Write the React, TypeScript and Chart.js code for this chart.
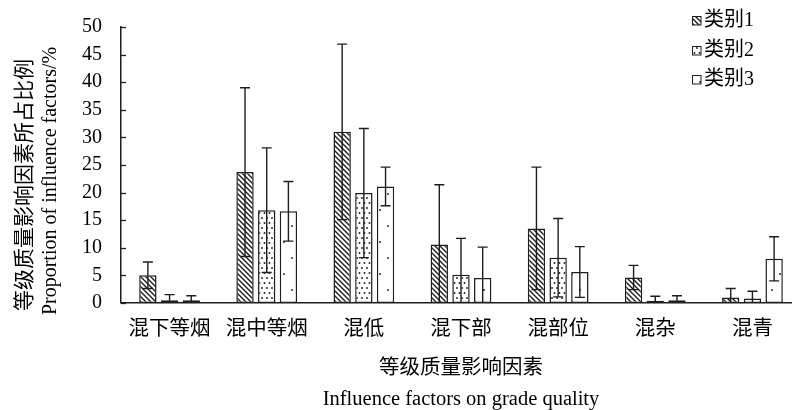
import React, { useEffect, useRef } from 'react';
import { Chart, registerables } from 'chart.js';

Chart.register(...registerables);

const categories = ['混下等烟', '混中等烟', '混低', '混下部', '混部位', '混杂', '混青'];
const seriesNames = ['类别1', '类别2', '类别3'];
const series1 = [5.0, 23.7, 31.0, 10.6, 13.5, 4.6, 1.0];
const series2 = [0.5, 16.8, 19.9, 5.1, 8.2, 0.4, 0.8];
const series3 = [0.5, 16.6, 21.1, 4.5, 5.6, 0.5, 8.0];
const error1 = [2.4, 15.3, 15.9, 10.8, 11.1, 2.2, 1.6];
const error2 = [1.0, 11.3, 11.7, 6.6, 7.1, 0.8, 1.3];
const error3 = [0.8, 5.4, 3.5, 5.6, 4.6, 0.8, 4.0];
const yMin = 0;
const yMax = 50;
const yStep = 5;
const yTitleLines = ['等级质量影响因素所占比例', 'Proportion of influence factors/%'];
const xTitleLines = ['等级质量影响因素', 'Influence factors on grade quality'];

const FONT = '"Liberation Serif", "Noto Sans CJK SC", serif';
const INK = '#1e1e1e';
const SHIFT = 4; // canvas is lifted by this many px

function makePattern(kind: number): CanvasPattern | string {
  const c = document.createElement('canvas');
  const ctx = c.getContext('2d');
  if (!ctx) return '#fff';
  if (kind === 0) {
    const s = 5;
    c.width = s; c.height = s;
    ctx.fillStyle = '#fff';
    ctx.fillRect(0, 0, s, s);
    ctx.strokeStyle = INK;
    ctx.lineWidth = 1.4;
    ctx.beginPath();
    ctx.moveTo(-1, -1); ctx.lineTo(s + 1, s + 1);
    ctx.moveTo(-1, s - 1); ctx.lineTo(1, s + 1);
    ctx.moveTo(s - 1, -1); ctx.lineTo(s + 1, 1);
    ctx.stroke();
  } else if (kind === 1) {
    c.width = 10; c.height = 10;
    ctx.fillStyle = '#fff';
    ctx.fillRect(0, 0, 10, 10);
    ctx.fillStyle = INK;
    const pts = [[2, 2], [7, 2], [4.5, 7], [9.5, 7], [-0.5, 7]];
    pts.forEach(([x, y]) => { ctx.beginPath(); ctx.arc(x, y, 0.95, 0, Math.PI * 2); ctx.fill(); });
  } else {
    c.width = 16; c.height = 32;
    ctx.fillStyle = '#fff';
    ctx.fillRect(0, 0, 16, 32);
    ctx.fillStyle = INK;
    const pts = [[4, 6], [12, 22]];
    pts.forEach(([x, y]) => { ctx.beginPath(); ctx.arc(x, y, 0.95, 0, Math.PI * 2); ctx.fill(); });
  }
  return ctx.createPattern(c, 'repeat') || '#fff';
}

export default function App() {
  const ref = useRef<HTMLCanvasElement | null>(null);

  useEffect(() => {
    document.documentElement.style.overflow = 'hidden';
    document.body.style.margin = '0';
    document.body.style.overflow = 'hidden';
    const canvas = ref.current;
    if (!canvas) return;
    const patterns = [makePattern(0), makePattern(1), makePattern(2)];
    const errors = [error1, error2, error3];

    const errorBars = {
      id: 'errorBars',
      afterDatasetsDraw(chart: any) {
        const { ctx, chartArea } = chart;
        const y = chart.scales.y;
        ctx.save();
        ctx.beginPath();
        ctx.rect(chartArea.left, chartArea.top - 30, chartArea.right - chartArea.left, chartArea.bottom - chartArea.top + 30);
        ctx.clip();
        ctx.strokeStyle = INK;
        ctx.lineWidth = 1.4;
        chart.data.datasets.forEach((ds: any, i: number) => {
          const meta = chart.getDatasetMeta(i);
          meta.data.forEach((bar: any, j: number) => {
            const v = ds.data[j];
            const e = errors[i][j];
            const x = bar.x;
            const yt = y.getPixelForValue(v + e);
            const yb = y.getPixelForValue(v - e);
            const hw = 5;
            ctx.beginPath();
            ctx.moveTo(x, yt); ctx.lineTo(x, yb);
            ctx.moveTo(x - hw, yt); ctx.lineTo(x + hw, yt);
            ctx.moveTo(x - hw, yb); ctx.lineTo(x + hw, yb);
            ctx.stroke();
          });
        });
        ctx.restore();
      },
    };

    const extras = {
      id: 'extras',
      afterDraw(chart: any) {
        const { ctx, chartArea } = chart;
        const y = chart.scales.y;
        ctx.save();
        // inward ticks
        ctx.strokeStyle = INK;
        ctx.lineWidth = 1.3;
        y.ticks.forEach((t: any) => {
          const py = Math.round(y.getPixelForValue(t.value)) + 0.5;
          ctx.beginPath();
          ctx.moveTo(chartArea.left, py);
          ctx.lineTo(chartArea.left + 5, py);
          ctx.stroke();
        });
        // y titles
        const mid = (chartArea.top + chartArea.bottom) / 2;
        ctx.fillStyle = '#000';
        ctx.textAlign = 'center';
        ctx.textBaseline = 'middle';
        ctx.save();
        ctx.translate(23, mid + 20);
        ctx.rotate(-Math.PI / 2);
        ctx.font = '21px "Noto Sans CJK SC", sans-serif';
        ctx.fillText(yTitleLines[0], 0, 0);
        ctx.restore();
        ctx.save();
        ctx.translate(51, mid + 16);
        ctx.rotate(-Math.PI / 2);
        ctx.font = '20px "Liberation Serif", serif';
        ctx.fillText(yTitleLines[1], 0, 0);
        ctx.restore();
        // legend
        const lx = 692;
        const rows = [20, 50, 79];
        chart.data.datasets.forEach((ds: any, i: number) => {
          const cy = rows[i] + SHIFT;
          ctx.fillStyle = patterns[i] as any;
          ctx.fillRect(lx, cy - 4, 9, 9);
          ctx.strokeStyle = INK;
          ctx.lineWidth = 1;
          ctx.strokeRect(lx + 0.5, cy - 3.5, 8.5, 8.5);
          ctx.fillStyle = '#000';
          ctx.textAlign = 'left';
          ctx.font = '20px ' + FONT;
          ctx.fillText(ds.label, lx + 12, cy + 1);
        });
        ctx.restore();
      },
    };

    const mk = (label: string, data: number[], i: number) => ({
      label,
      data,
      backgroundColor: patterns[i],
      borderColor: INK,
      borderWidth: 1.5,
      borderSkipped: false,
      categoryPercentage: 0.67,
      barPercentage: 0.8,
    });

    const chart = new Chart(canvas, {
      type: 'bar',
      data: {
        labels: categories,
        datasets: [
          mk(seriesNames[0], series1, 0),
          mk(seriesNames[1], series2, 1),
          mk(seriesNames[2], series3, 2),
        ],
      },
      options: {
        responsive: false,
        animation: false,
        layout: { padding: { left: 63, right: 3, top: 0, bottom: 0 } },
        plugins: { legend: { display: false }, tooltip: { enabled: false } },
        scales: {
          x: {
            grid: { display: false, drawTicks: false },
            border: { display: true, color: INK, width: 1.5 },
            ticks: { color: '#000', font: { family: FONT, size: 20.5 }, padding: 14, maxRotation: 0, autoSkip: false },
            title: {
              display: true,
              text: xTitleLines,
              color: '#000',
              font: { family: FONT, size: 20.5, lineHeight: 1.5 },
              padding: { top: -2, bottom: 2 },
            },
          },
          y: {
            min: yMin,
            max: yMax,
            grid: { display: false, drawTicks: false },
            border: { display: true, color: INK, width: 1.5 },
            ticks: { stepSize: yStep, autoSkip: false, color: '#000', font: { family: '"Liberation Serif", serif', size: 20 }, padding: 19 },
          },
        },
      },
      plugins: [errorBars, extras],
    } as any);
    return () => chart.destroy();
  }, []);

  return (
    <div style={{ width: 804, height: 417, overflow: 'hidden' }}>
      <canvas ref={ref} width={804} height={417 + SHIFT} style={{ display: 'block', marginTop: -SHIFT }} />
    </div>
  );
}
